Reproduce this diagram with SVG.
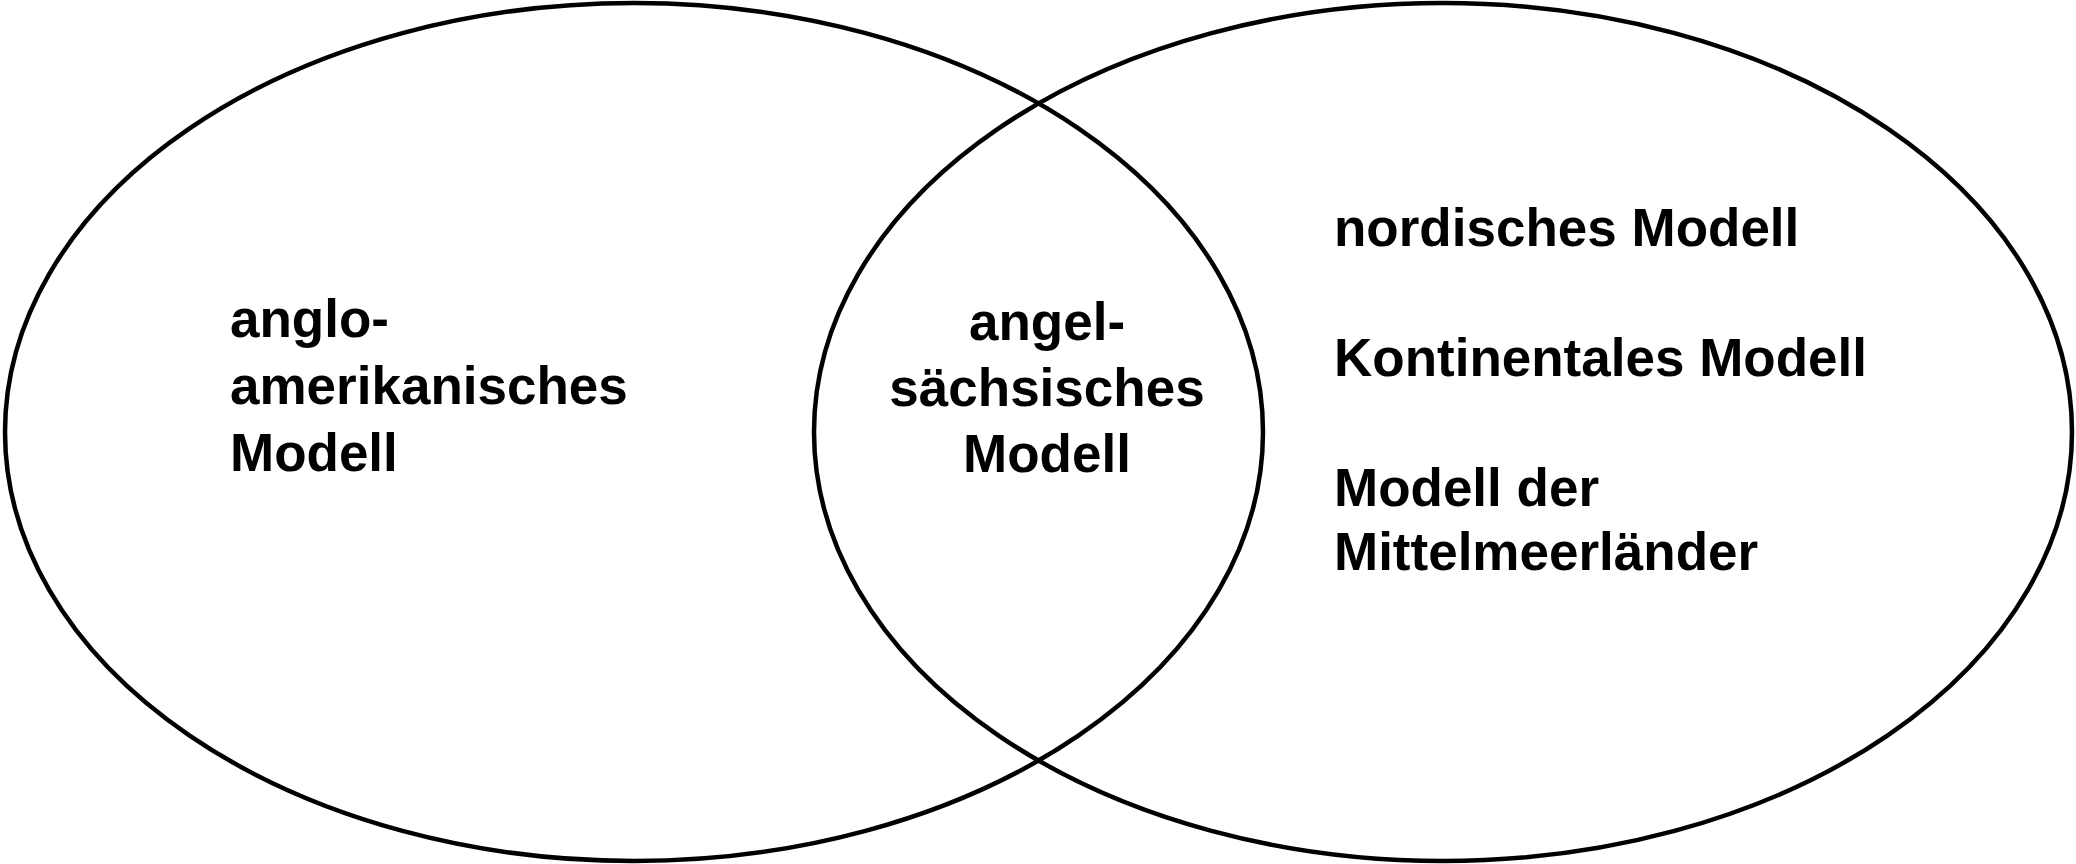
<svg xmlns="http://www.w3.org/2000/svg" width="2076" height="864" viewBox="0 0 2076 864">
<style>
.set{fill:none;stroke:#000;stroke-width:4.5}
.lbl{font-family:"Liberation Sans",Arial,sans-serif;font-weight:bold;font-size:53px;fill:#000}
.mid{text-anchor:middle}
</style>
<rect width="2076" height="864" fill="#fff"/>
<g id="left-set">
<ellipse class="set" cx="634" cy="432" rx="629" ry="429"/>
<text class="lbl" x="230"><tspan x="230" y="337">anglo-</tspan><tspan x="230" y="404">amerikanisches</tspan><tspan x="230" y="471">Modell</tspan></text>
</g>
<g id="right-set">
<ellipse class="set" cx="1443" cy="432" rx="629" ry="429"/>
<text class="lbl" x="1334"><tspan x="1334" y="246">nordisches Modell</tspan><tspan x="1334" y="376">Kontinentales Modell</tspan><tspan x="1334" y="506">Modell der</tspan><tspan x="1334" y="570">Mittelmeerländer</tspan></text>
</g>
<g id="intersection">
<text class="lbl mid"><tspan x="1047" y="340">angel-</tspan><tspan x="1047" y="406">sächsisches</tspan><tspan x="1047" y="472">Modell</tspan></text>
</g>
<g id="connectors"></g>
</svg>
